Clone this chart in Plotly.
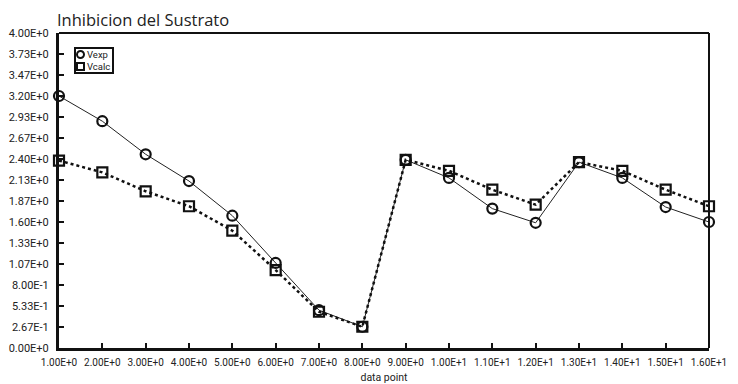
import plotly.graph_objects as go

data_point = list(range(1, 17))
vexp = [3.20, 2.88, 2.46, 2.12, 1.68, 1.08, 0.48, 0.27, 2.39, 2.16, 1.77, 1.59, 2.36, 2.16, 1.79, 1.60]
vcalc = [2.38, 2.23, 1.99, 1.80, 1.49, 0.99, 0.46, 0.27, 2.39, 2.25, 2.01, 1.82, 2.36, 2.25, 2.01, 1.80]
x_tick_labels = ["1.00E+0", "2.00E+0", "3.00E+0", "4.00E+0", "5.00E+0", "6.00E+0", "7.00E+0", "8.00E+0",
                 "9.00E+0", "1.00E+1", "1.10E+1", "1.20E+1", "1.30E+1", "1.40E+1", "1.50E+1", "1.60E+1"]
y_tick_labels = ["0.00E+0", "2.67E-1", "5.33E-1", "8.00E-1", "1.07E+0", "1.33E+0", "1.60E+0", "1.87E+0",
                 "2.13E+0", "2.40E+0", "2.67E+0", "2.93E+0", "3.20E+0", "3.47E+0", "3.73E+0", "4.00E+0"]
series_names = ["Vexp", "Vcalc"]

FONT = "Roboto"
TFONT = "Open Sans"

fig = go.Figure()
fig.add_trace(go.Scatter(x=data_point, y=vexp, mode="lines+markers", name=series_names[0], showlegend=False,
                         line=dict(color="#222", width=1),
                         marker=dict(symbol="circle-open", size=10, color="#111", line=dict(width=2.2)),
                         cliponaxis=False))
fig.add_trace(go.Scatter(x=data_point, y=vcalc, mode="lines+markers", name=series_names[1], showlegend=False,
                         line=dict(color="#111", width=2.5, dash="dot"),
                         marker=dict(symbol="square-open", size=10, color="#111", line=dict(width=2.2)),
                         cliponaxis=False))

W, H = 650.0, 315.0  # plot area in px
def px_x(p):
    return (p - 59) / W
def px_y(p):
    return (348 - p) / H

shapes = [
    dict(type="line", xref="paper", yref="paper", x0=0, x1=1, y0=1, y1=1, line=dict(color="#111", width=2)),
    dict(type="line", xref="paper", yref="paper", x0=1, x1=1, y0=0, y1=1, line=dict(color="#111", width=2)),
    # legend box
    dict(type="rect", xref="paper", yref="paper", x0=px_x(75), x1=px_x(113), y0=px_y(73), y1=px_y(48),
         line=dict(color="#111", width=2), fillcolor="white", layer="above"),
    dict(type="circle", xref="paper", yref="paper", xsizemode="pixel", ysizemode="pixel",
         xanchor=px_x(80.5), yanchor=px_y(54.5), x0=-3.5, x1=3.5, y0=-3.5, y1=3.5,
         line=dict(color="#111", width=2), layer="above"),
    dict(type="rect", xref="paper", yref="paper", xsizemode="pixel", ysizemode="pixel",
         xanchor=px_x(80.5), yanchor=px_y(66.5), x0=-3.5, x1=3.5, y0=-3.5, y1=3.5,
         line=dict(color="#111", width=2), layer="above"),
]
annotations = [
    dict(text=series_names[0], xref="paper", yref="paper", x=px_x(85), y=px_y(54.5), xanchor="left",
         yanchor="middle", showarrow=False, font=dict(size=9.5, family=FONT, color="#222")),
    dict(text=series_names[1], xref="paper", yref="paper", x=px_x(85), y=px_y(66.5), xanchor="left",
         yanchor="middle", showarrow=False, font=dict(size=9.5, family=FONT, color="#222")),
]

fig.update_layout(
    width=738, height=384,
    margin=dict(l=59, r=29, t=33, b=36),
    paper_bgcolor="white", plot_bgcolor="white",
    font=dict(family=FONT, size=11, color="#222"),
    title=dict(text="Inhibicion del Sustrato", x=57/738, xanchor="left", y=1 - 20/384, yanchor="middle",
               font=dict(family=TFONT, size=16.5, color="#222")),
    showlegend=False,
    xaxis=dict(range=[1, 16], tickvals=data_point, ticktext=x_tick_labels, showgrid=False, zeroline=False,
               showline=True, linecolor="#111", linewidth=3, ticks="inside", ticklen=5, tickwidth=2,
               tickcolor="#111", tickfont=dict(size=10, family=FONT), ticklabelstandoff=3,
               automargin=False,
               title=dict(text="data point", font=dict(size=10.5, family=FONT), standoff=10)),
    yaxis=dict(range=[0, 4], tickvals=[float(t) for t in y_tick_labels], ticktext=y_tick_labels,
               showgrid=False, zeroline=False, showline=True, linecolor="#111", linewidth=3,
               ticks="inside", ticklen=5, tickwidth=2, tickcolor="#111", automargin=False,
               tickfont=dict(size=11, family=FONT), ticklabelstandoff=5),
    shapes=shapes,
    annotations=annotations,
)

fig.write_html("out.html")
